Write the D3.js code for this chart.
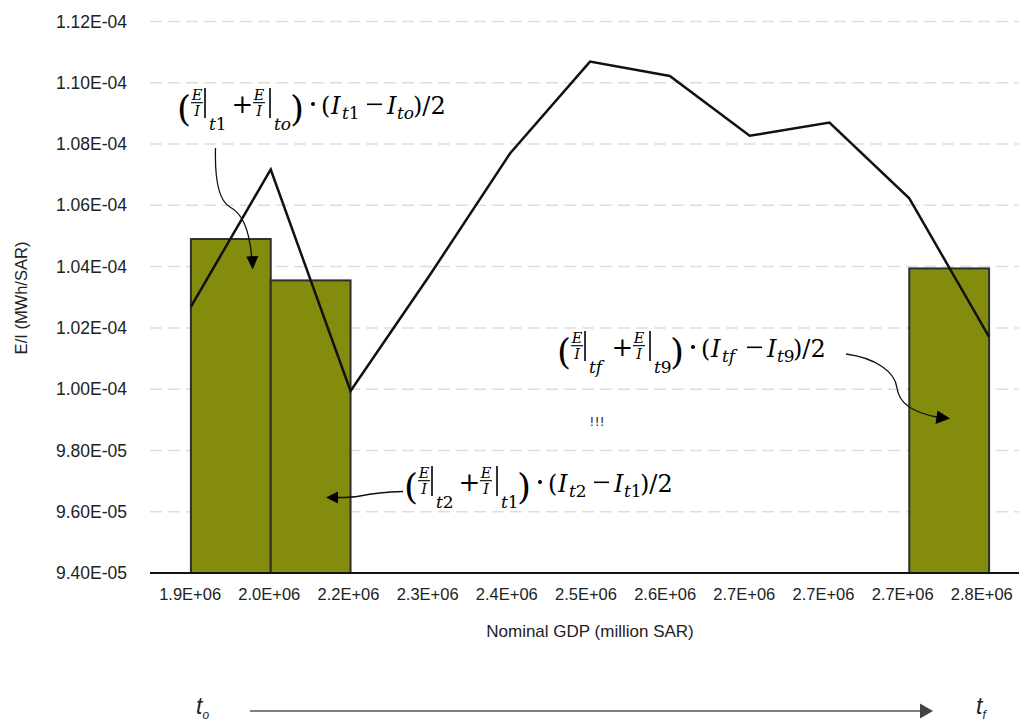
<!DOCTYPE html>
<html><head><meta charset="utf-8">
<script src="https://cdn.jsdelivr.net/npm/d3@7/dist/d3.min.js"></script>
<style>body{margin:0;background:#fff}svg{display:block}</style>
</head><body>
<svg id="chart" width="1019" height="722"></svg>
<script>
// ---- data ----
const categories = ["1.9E+06","2.0E+06","2.2E+06","2.3E+06","2.4E+06","2.5E+06","2.6E+06","2.7E+06","2.7E+06","2.7E+06","2.8E+06"];
const eiValues = [1.0269e-4, 1.0717e-4, 0.9994e-4, 1.0375e-4, 1.0770e-4, 1.1069e-4, 1.1022e-4, 1.0827e-4, 1.0870e-4, 1.0623e-4, 1.0171e-4];
const barStart = [0, 1, 9];
const barValues = [1.0490e-4, 1.0355e-4, 1.0394e-4];
const yTicks = [9.4e-5, 9.6e-5, 9.8e-5, 1.0e-4, 1.02e-4, 1.04e-4, 1.06e-4, 1.08e-4, 1.10e-4, 1.12e-4];
const yTitle = "E/I (MWh/SAR)";
const xTitle = "Nominal GDP (million SAR)";

const svg = d3.select("#chart");
svg.append("rect").attr("width",1019).attr("height",722).attr("fill","#fff");

const x = d3.scalePoint().domain(d3.range(categories.length)).range([151, 1029]).padding(0.5);
const y = d3.scaleLinear().domain([9.4e-5, 1.12e-4]).range([573, 21.5]);

function fmtE(v){
  const [m,e] = v.toExponential(2).split("e");
  const n = +e;
  return m + "E" + (n<0?"-":"+") + String(Math.abs(n)).padStart(2,"0");
}

// gridlines
svg.append("g").selectAll("line").data(yTicks.slice(1)).join("line")
  .attr("x1",150).attr("x2",1019)
  .attr("y1",d=>y(d)).attr("y2",d=>y(d))
  .attr("stroke","#dedede").attr("stroke-width",1.5).attr("stroke-dasharray","12,6");

// y axis labels
const yAxis = d3.axisLeft(y).tickValues(yTicks).tickFormat(fmtE).tickSize(0).tickPadding(0);
const yg = svg.append("g").attr("transform","translate(127,0)").call(yAxis);
yg.select(".domain").remove();
yg.selectAll("text").attr("fill","#222").style("font-family","'Liberation Sans', Arial, sans-serif").style("font-size","17.5px");

// bars
svg.append("g").selectAll("rect").data(barStart.map((s,i)=>({s, v: barValues[i]}))).join("rect")
  .attr("x", d=>x(d.s)).attr("width", d=>x(d.s+1)-x(d.s))
  .attr("y", d=>y(d.v)).attr("height", d=>y(9.4e-5)-y(d.v))
  .attr("fill","#848c0e").attr("stroke","#2e2e2e").attr("stroke-width",2);

// line
svg.append("path").datum(eiValues)
  .attr("d", d3.line().x((d,i)=>x(i)).y(d=>y(d)))
  .attr("fill","none").attr("stroke","#111").attr("stroke-width",2.5).attr("stroke-linejoin","miter");

// x axis
const xAxis = d3.axisBottom(x).tickFormat(i=>categories[i]).tickSize(0).tickPadding(0);
const xg = svg.append("g").attr("transform","translate(0,573)").call(xAxis);
xg.select(".domain").remove();
xg.selectAll("text").attr("fill","#222").attr("y",27).attr("dy",0)
  .attr("dx",(d,i)=>-1.3-0.65*i)
  .style("font-family","'Liberation Sans', Arial, sans-serif").style("font-size","16.5px");
svg.append("line").attr("x1",150).attr("x2",1019).attr("y1",573).attr("y2",573).attr("stroke","#111").attr("stroke-width",2);

// titles
svg.append("text").attr("x",590).attr("y",637).attr("text-anchor","middle").attr("fill","#222")
  .style("font-family","'Liberation Sans', Arial, sans-serif").style("font-size","17px").text(xTitle);
svg.append("text").attr("transform","translate(27,298) rotate(-90)").attr("text-anchor","middle").attr("fill","#222")
  .style("font-family","'Liberation Sans', Arial, sans-serif").style("font-size","16.5px").text(yTitle);

// ---- formulas ----
function subText(g, x0, y0, str, size){
  const t = g.append("text").attr("x",x0).attr("y",y0).style("font-size",size+"px");
  for (const ch of str){
    t.append("tspan").style("font-style", /[a-z]/i.test(ch) ? "italic" : "normal").text(ch);
  }
}
function fracEI(g, cx){
  g.append("text").attr("x",cx).attr("y",-14).attr("text-anchor","middle").style("font-size","14.5px").style("font-style","italic").text("E");
  g.append("line").attr("x1",cx-6).attr("x2",cx+6).attr("y1",-11.3).attr("y2",-11.3).attr("stroke","#000").attr("stroke-width",1.1);
  g.append("text").attr("x",cx).attr("y",1.5).attr("text-anchor","middle").style("font-size","14.5px").style("font-style","italic").text("I");
}
function formula(x0, y0, s1, s2, s3, s4){
  const f = svg.append("g").attr("transform",`translate(${x0},${y0})`).attr("fill","#000")
    .style("font-family","'DejaVu Serif', serif");
  f.append("text").attr("x",-3).attr("y",7).style("font-size","36px").text("(");
  fracEI(f, 17);
  f.append("line").attr("x1",25).attr("x2",25).attr("y1",-26).attr("y2",4).attr("stroke","#000").attr("stroke-width",1.6);
  subText(f, 29, 15.5, s1, 17);
  f.append("text").attr("x",62.5).attr("y",-1.5).attr("text-anchor","middle").style("font-size","26px").text("+");
  fracEI(f, 79);
  f.append("line").attr("x1",90).attr("x2",90).attr("y1",-26).attr("y2",4).attr("stroke","#000").attr("stroke-width",1.6);
  subText(f, 94, 15.5, s2, 17);
  f.append("text").attr("x",110).attr("y",7).style("font-size","36px").text(")");
  f.append("circle").attr("cx",133).attr("cy",-10).attr("r",2);
  f.append("text").attr("x",141).attr("y",0).style("font-size","24px").text("(");
  f.append("text").attr("x",151).attr("y",0).style("font-size","24px").style("font-style","italic").text("I");
  subText(f, 162, 5, s3, 17);
  f.append("line").attr("x1",187).attr("x2",202).attr("y1",-9.7).attr("y2",-9.7).attr("stroke","#000").attr("stroke-width",1.6);
  f.append("text").attr("x",207).attr("y",0).style("font-size","24px").style("font-style","italic").text("I");
  subText(f, 217, 5, s4, 17);
  f.append("text").attr("x",233).attr("y",0).style("font-size","24px").text(")/2");
}
formula(180, 114, "t1", "to", "t1", "to");
formula(407, 492, "t2", "t1", "t2", "t1");
formula(560, 357, "tf", "t9", "tf", "t9");

// arrows
const ann = svg.append("g").attr("fill","none").attr("stroke","#111").attr("stroke-width",1.3);
ann.append("path").attr("d","M215.5,148 C214.5,185 221,202 230,207 C241,213 249,226 251.8,258");
svg.append("path").attr("d","M246.3,256.5 L258.3,256 L252.7,269.5 Z").attr("fill","#000");
ann.append("path").attr("d","M403,491.5 C385,492 372,493.5 360,496 C352,497.5 345,497.5 338,497.5");
svg.append("path").attr("d","M338,491.5 L338,503.5 L326,497.5 Z").attr("fill","#000");
ann.append("path").attr("d","M846,354 C876,358 895,372 897,388 C899,404 915,413 937,417");
svg.append("path").attr("d","M937.5,410.5 L950,418.5 L935.5,424 Z").attr("fill","#000");

svg.append("text").attr("x",597).attr("y",426).attr("text-anchor","middle").attr("fill","#333")
  .style("font-family","'DejaVu Sans', sans-serif").style("font-size","13px").text("!!!");

// time arrow
svg.append("line").attr("x1",250).attr("x2",922).attr("y1",711).attr("y2",711).attr("stroke","#555").attr("stroke-width",1.5);
svg.append("path").attr("d","M920,703.5 L933,711 L920,718.5 Z").attr("fill","#444");
function tLabel(x0, s){
  const t = svg.append("text").attr("x",x0).attr("y",714).attr("fill","#222")
    .style("font-family","'Liberation Sans', Arial, sans-serif").style("font-style","italic");
  t.append("tspan").style("font-size","23px").text("t");
  t.append("tspan").attr("dy",5).style("font-size","12px").text(s);
}
tLabel(196, "o");
tLabel(976, "f");
</script>
</body></html>
